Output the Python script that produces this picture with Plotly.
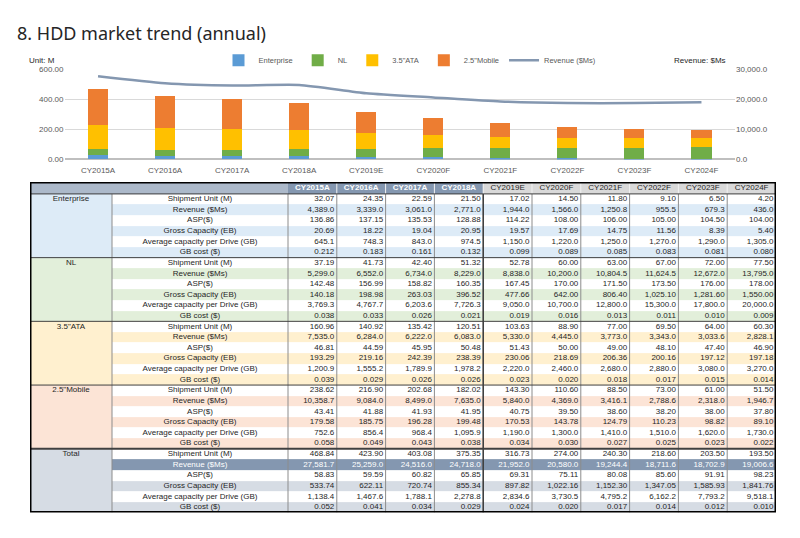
import plotly.graph_objects as go

years = ["CY2015A", "CY2016A", "CY2017A", "CY2018A", "CY2019E",
         "CY2020F", "CY2021F", "CY2022F", "CY2023F", "CY2024F"]

# Enterprise
ent_ship = [32.07, 24.35, 22.59, 21.50, 17.02, 14.50, 11.80, 9.10, 6.50, 4.20]
ent_rev = [4389.0, 3339.0, 3061.0, 2771.0, 1944.0, 1566.0, 1250.8, 955.5, 679.3, 436.0]
ent_asp = [136.86, 137.15, 135.53, 128.88, 114.22, 108.00, 106.00, 105.00, 104.50, 104.00]
ent_cap = [20.69, 18.22, 19.04, 20.95, 19.57, 17.69, 14.75, 11.56, 8.39, 5.40]
ent_avg = [645.1, 748.3, 843.0, 974.5, 1150.0, 1220.0, 1250.0, 1270.0, 1290.0, 1305.0]
ent_gb = [0.212, 0.183, 0.161, 0.132, 0.099, 0.089, 0.085, 0.083, 0.081, 0.080]

# NL
nl_ship = [37.19, 41.73, 42.40, 51.32, 52.78, 60.00, 63.00, 67.00, 72.00, 77.50]
nl_rev = [5299.0, 6552.0, 6734.0, 8229.0, 8838.0, 10200.0, 10804.5, 11624.5, 12672.0, 13795.0]
nl_asp = [142.48, 156.99, 158.82, 160.35, 167.45, 170.00, 171.50, 173.50, 176.00, 178.00]
nl_cap = [140.18, 198.98, 263.03, 396.52, 477.66, 642.00, 806.40, 1025.10, 1281.60, 1550.00]
nl_avg = [3769.3, 4767.7, 6203.6, 7726.3, 9050.0, 10700.0, 12800.0, 15300.0, 17800.0, 20000.0]
nl_gb = [0.038, 0.033, 0.026, 0.021, 0.019, 0.016, 0.013, 0.011, 0.010, 0.009]

# 3.5"ATA
ata_ship = [160.96, 140.92, 135.42, 120.51, 103.63, 88.90, 77.00, 69.50, 64.00, 60.30]
ata_rev = [7535.0, 6284.0, 6222.0, 6083.0, 5330.0, 4445.0, 3773.0, 3343.0, 3033.6, 2828.1]
ata_asp = [46.81, 44.59, 45.95, 50.48, 51.43, 50.00, 49.00, 48.10, 47.40, 46.90]
ata_cap = [193.29, 219.16, 242.39, 238.39, 230.06, 218.69, 206.36, 200.16, 197.12, 197.18]
ata_avg = [1200.9, 1555.2, 1789.9, 1978.2, 2220.0, 2460.0, 2680.0, 2880.0, 3080.0, 3270.0]
ata_gb = [0.039, 0.029, 0.026, 0.026, 0.023, 0.020, 0.018, 0.017, 0.015, 0.014]

# 2.5"Mobile
mob_ship = [238.62, 216.90, 202.68, 182.02, 143.30, 110.60, 88.50, 73.00, 61.00, 51.50]
mob_rev = [10358.7, 9084.0, 8499.0, 7635.0, 5840.0, 4369.0, 3416.1, 2788.6, 2318.0, 1946.7]
mob_asp = [43.41, 41.88, 41.93, 41.95, 40.75, 39.50, 38.60, 38.20, 38.00, 37.80]
mob_cap = [179.58, 185.75, 196.28, 199.48, 170.53, 143.78, 124.79, 110.23, 98.82, 89.10]
mob_avg = [752.6, 856.4, 968.4, 1095.9, 1190.0, 1300.0, 1410.0, 1510.0, 1620.0, 1730.0]
mob_gb = [0.058, 0.049, 0.043, 0.038, 0.034, 0.030, 0.027, 0.025, 0.023, 0.022]

# Total
tot_ship = [468.84, 423.90, 403.08, 375.35, 316.73, 274.00, 240.30, 218.60, 203.50, 193.50]
tot_rev = [27581.7, 25259.0, 24516.0, 24718.0, 21952.0, 20580.0, 19244.4, 18711.6, 18702.9, 19006.6]
tot_asp = [58.83, 59.59, 60.82, 65.85, 69.31, 75.11, 80.08, 85.60, 91.91, 98.23]
tot_cap = [533.74, 622.11, 720.74, 855.34, 897.82, 1022.16, 1152.30, 1347.05, 1585.93, 1841.76]
tot_avg = [1138.4, 1467.6, 1788.1, 2278.8, 2834.6, 3730.5, 4795.2, 6162.2, 7793.2, 9518.1]
tot_gb = [0.052, 0.041, 0.034, 0.029, 0.024, 0.020, 0.017, 0.014, 0.012, 0.010]

group_names = ["Enterprise", "NL", "3.5\"ATA", "2.5\"Mobile", "Total"]
metric_names = ["Shipment Unit (M)", "Revenue ($Ms)", "ASP($)", "Gross Capacity (EB)",
                "Average capacity per Drive (GB)", "GB cost ($)"]

W, H = 800, 538
OFF = 8  # page body margin in the screenshot


def px(x):
    return (x - OFF) / W


def py(y):
    return 1 - (y - OFF) / H


FONT = "Liberation Sans, Arial"

# ---------------- chart ----------------
fig = go.Figure()
bar_colors = ["#5b9bd5", "#70ad47", "#ffc000", "#ed7d31"]
for name, vals, col in zip(group_names[:4], [ent_ship, nl_ship, ata_ship, mob_ship], bar_colors):
    fig.add_trace(go.Bar(x=years, y=vals, name=name, marker=dict(color=col, line=dict(width=0)),
                         xaxis="x", yaxis="y", hoverinfo="skip"))
fig.add_trace(go.Scatter(x=years, y=tot_rev, name="Revenue ($Ms)", mode="lines",
                         line=dict(color="#8497b0", width=2.5, shape="spline", smoothing=0.6),
                         xaxis="x", yaxis="y2", hoverinfo="skip"))

# ---------------- table (heatmap cells + text on its own axes) ----------------
groups = [
    [ent_ship, ent_rev, ent_asp, ent_cap, ent_avg, ent_gb],
    [nl_ship, nl_rev, nl_asp, nl_cap, nl_avg, nl_gb],
    [ata_ship, ata_rev, ata_asp, ata_cap, ata_avg, ata_gb],
    [mob_ship, mob_rev, mob_asp, mob_cap, mob_avg, mob_gb],
    [tot_ship, tot_rev, tot_asp, tot_cap, tot_avg, tot_gb],
]
fmts = ["{:,.2f}", "{:,.1f}", "{:,.2f}", "{:,.2f}", "{:,.1f}", "{:,.3f}"]
group_fill = ["#ddebf7", "#e2efda", "#fff0cf", "#fce4d6", "#d6dce4"]
TXT = "#262626"

colw = [82, 176] + [48.8] * len(years)
bounds = [0.0]
for w in colw:
    bounds.append(bounds[-1] + w)
tw = bounds[-1]
hdr_h = 12
row_h = 10.8
n_rows = len(group_names) * len(metric_names)
ybounds = [0.0, hdr_h] + [hdr_h + (i + 1) * row_h for i in range(n_rows)]
th = ybounds[-1]

hdr_fill = ["#acb9ca", "#acb9ca"] + ["#8497b0"] * 4 + ["#d9d9d9"] * 6
hdr_font = [TXT, TXT] + ["white"] * 4 + [TXT] * 6
cell_colors = [hdr_fill]
tx, ty, tt, tpos, tcol = [], [], [], [], []
for ci, y in enumerate(years):
    tx.append((bounds[ci + 2] + bounds[ci + 3]) / 2)
    ty.append(hdr_h / 2)
    tt.append(f"<b>{y}</b>" if ci < 4 else y)
    tpos.append("middle center")
    tcol.append(hdr_font[ci + 2])

r = 0
for gi, (gname, metrics) in enumerate(zip(group_names, groups)):
    for mi, (mname, vals) in enumerate(zip(metric_names, metrics)):
        yc = (ybounds[r + 1] + ybounds[r + 2]) / 2
        dark = (gi == 4 and mi == 1)
        rowfill = "#8497b0" if dark else ("white" if mi % 2 == 0 else group_fill[gi])
        rowfont = "white" if dark else TXT
        cell_colors.append([group_fill[gi], rowfill] + [rowfill] * len(years))
        if mi == 0:
            tx.append((bounds[0] + bounds[1]) / 2); ty.append(yc); tt.append(gname)
            tpos.append("middle center"); tcol.append(TXT)
        tx.append((bounds[1] + bounds[2]) / 2); ty.append(yc); tt.append(mname)
        tpos.append("middle center"); tcol.append(rowfont)
        for ci in range(len(years)):
            tx.append(bounds[ci + 3] - 2.5); ty.append(yc); tt.append(fmts[mi].format(vals[ci]))
            tpos.append("middle left"); tcol.append(rowfont)
        r += 1

uniq = []
for row in cell_colors:
    for c in row:
        if c not in uniq:
            uniq.append(c)
z = [[uniq.index(c) for c in row] for row in cell_colors]
k = len(uniq)
cscale = [[i / (k - 1), c] for i, c in enumerate(uniq)]

fig.add_trace(go.Heatmap(z=z, x=bounds, y=ybounds, colorscale=cscale, zmin=0, zmax=k - 1,
                         showscale=False, hoverinfo="skip", xaxis="x3", yaxis="y3"))
fig.add_trace(go.Scatter(x=tx, y=ty, text=tt, mode="text", textposition=tpos,
                         marker=dict(size=1),
                         textfont=dict(family=FONT, size=8, color=tcol),
                         showlegend=False, hoverinfo="skip", cliponaxis=False,
                         xaxis="x3", yaxis="y3"))

# grid lines / frame on table axes
shapes = []
for i, bx in enumerate(bounds[1:-1], start=1):
    dark = (i == 6)
    shapes.append(dict(type="line", xref="x3", yref="y3", x0=bx, x1=bx, y0=hdr_h, y1=th,
                       line=dict(color="#404040" if dark else "#8c8c8c", width=1.6 if dark else 1)))
    if i >= 3:
        shapes.append(dict(type="line", xref="x3", yref="y3", x0=bx, x1=bx, y0=0, y1=hdr_h,
                           line=dict(color="#f2f2f2", width=1)))
for g in range(1, 5):
    yy = ybounds[1 + g * 6]
    shapes.append(dict(type="line", xref="x3", yref="y3", x0=0, x1=tw, y0=yy, y1=yy,
                       line=dict(color="#404040", width=2.2 if g == 4 else 1)))
shapes.append(dict(type="line", xref="x3", yref="y3", x0=0, x1=tw, y0=hdr_h, y1=hdr_h,
                   line=dict(color="#404040", width=1)))
shapes.append(dict(type="rect", xref="x3", yref="y3", x0=0, x1=tw, y0=0, y1=th,
                   line=dict(color="black", width=3)))

tx0, ty0 = 30, 181
grid = "#d9d9d9"
tickfont = dict(family=FONT, size=8, color="#595959")
fig.update_layout(
    width=W, height=H,
    margin=dict(l=0, r=0, t=0, b=0),
    paper_bgcolor="white", plot_bgcolor="white",
    barmode="stack", bargap=0.7,
    showlegend=True,
    legend=dict(orientation="h", x=px(410), xanchor="center", y=py(57), yanchor="middle",
                traceorder="normal", font=dict(family=FONT, size=7.5, color="#595959"),
                bgcolor="rgba(0,0,0,0)"),
    xaxis=dict(domain=[px(64.5), px(735)], tickfont=tickfont, showline=False, ticks="",
               anchor="y", fixedrange=True, ticklabelstandoff=5),
    yaxis=dict(domain=[py(158), py(66)], range=[0, 600], dtick=200, tickformat=".2f",
               tickfont=tickfont, gridcolor=grid, zeroline=True, zerolinecolor="#bfbfbf",
               ticks="", showline=False, fixedrange=True),
    yaxis2=dict(domain=[py(158), py(66)], range=[0, 30000], dtick=10000, tickformat=",.1f",
                overlaying="y", side="right", anchor="x", tickfont=tickfont, showgrid=False,
                zeroline=False, ticks="", showline=False, fixedrange=True),
    xaxis3=dict(domain=[px(tx0), px(tx0 + tw)], range=[0, tw], visible=False, anchor="y3",
                fixedrange=True),
    yaxis3=dict(domain=[py(ty0 + th), py(ty0)], range=[th, 0], visible=False, anchor="x3",
                fixedrange=True),
    shapes=shapes,
    annotations=[
        dict(text="8. HDD market trend (annual)", xref="paper", yref="paper", x=px(15), y=py(29),
             xanchor="left", yanchor="middle", showarrow=False,
             font=dict(family="Noto Sans", size=18, color="#262626")),
        dict(text="Unit: M", xref="paper", yref="paper", x=px(27), y=py(57),
             xanchor="left", yanchor="middle", showarrow=False,
             font=dict(family=FONT, size=8, color="#262626")),
        dict(text="Revenue: $Ms", xref="paper", yref="paper", x=px(728), y=py(57),
             xanchor="right", yanchor="middle", showarrow=False,
             font=dict(family=FONT, size=8, color="#262626")),
    ],
)

fig.write_html("out.html")
